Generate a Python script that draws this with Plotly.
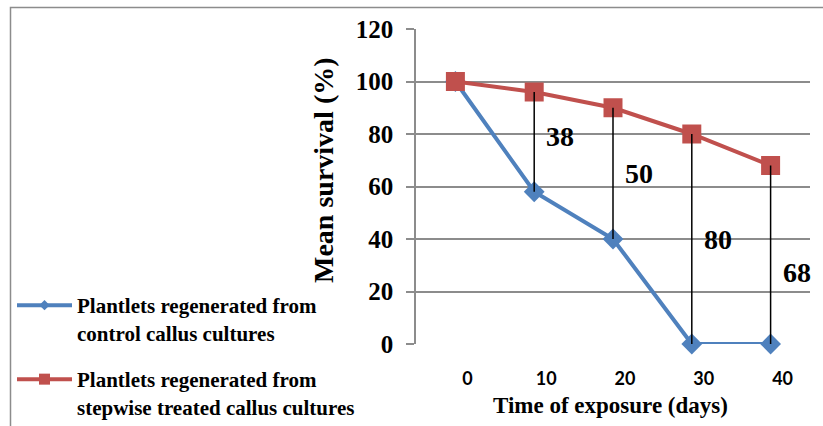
import plotly.graph_objects as go

# ---- data -------------------------------------------------------------
days = [0, 10, 20, 30, 40]
day_labels = ["0", "10", "20", "30", "40"]
control = [100, 58, 40, 0, 0]
stepwise = [100, 96, 90, 80, 68]
y_ticks = [0, 20, 40, 60, 80, 100, 120]

control_name = "Plantlets regenerated from<br>control callus cultures"
stepwise_name = "Plantlets regenerated from<br>stepwise treated callus cultures"
y_title = "Mean survival (%)"
x_title = "Time of exposure (days)"

# ---- styling ----------------------------------------------------------
W, H = 823, 426
M_L, M_R, M_T, M_B = 416, 13, 29, 82
PW, PH = W - M_L - M_R, H - M_T - M_B

BLUE = "#4F81BD"
RED = "#C0504D"
GRID = "#8C8C8C"
SERIF = "Liberation Serif"
SANS = "Lato"

# vertical pixel tweaks for the difference labels
label_yshift = [5, 0, 0, -18]


def px_x(px):
    return (px - M_L) / PW


def px_y(py):
    return (M_T + PH - py) / PH


fig = go.Figure()

# main series (legend entries drawn separately with smaller markers)
fig.add_trace(go.Scatter(
    x=days, y=control, mode="lines+markers", showlegend=False,
    line=dict(color=BLUE, width=4), cliponaxis=False,
    marker=dict(symbol="diamond", size=16, color=BLUE),
))
fig.add_trace(go.Scatter(
    x=days, y=stepwise, mode="lines+markers", showlegend=False,
    line=dict(color=RED, width=4), cliponaxis=False,
    marker=dict(symbol="square", size=19, color=RED),
))

# difference lines between the two series
gx, gy = [], []
for d, c, s in zip(days, control, stepwise):
    if s - c > 0:
        gx += [d, d, None]
        gy += [s, c, None]
fig.add_trace(go.Scatter(
    x=gx, y=gy, mode="lines", showlegend=False, cliponaxis=False,
    line=dict(color="black", width=1.5), hoverinfo="skip",
))

# legend-only entries
fig.add_trace(go.Scatter(
    x=[None], y=[None], mode="lines+markers", name=control_name,
    line=dict(color=BLUE, width=4),
    marker=dict(symbol="diamond", size=8, color=BLUE),
    legend="legend",
))
fig.add_trace(go.Scatter(
    x=[None], y=[None], mode="lines+markers", name=stepwise_name,
    line=dict(color=RED, width=4),
    marker=dict(symbol="square", size=11, color=RED),
    legend="legend2",
))

# difference labels
k = 0
for d, c, s in zip(days, control, stepwise):
    diff = s - c
    if diff <= 0:
        continue
    fig.add_annotation(
        x=d, y=(s + c) / 2, text=str(diff), showarrow=False,
        xshift=26, yshift=label_yshift[k],
        font=dict(family=SERIF, size=28, color="black", weight="bold"),
    )
    k += 1

# axis titles
fig.add_annotation(
    xref="paper", yref="paper", x=px_x(323), y=px_y(170),
    text=y_title, textangle=-90, showarrow=False,
    xanchor="center", yanchor="middle",
    font=dict(family=SERIF, size=28, color="black", weight="bold"),
)
fig.add_annotation(
    xref="paper", yref="paper", x=px_x(610), y=px_y(405),
    text=x_title, showarrow=False,
    xanchor="center", yanchor="middle",
    font=dict(family=SERIF, size=23, color="black", weight="bold"),
)

# outer chart frame
fig.add_shape(
    type="rect", xref="paper", yref="paper",
    x0=px_x(10.5), x1=px_x(840), y0=px_y(450), y1=px_y(7.5),
    line=dict(color=GRID, width=1.5), layer="below",
)

legend_common = dict(
    xref="container", yref="container",
    xanchor="left", yanchor="top", bgcolor="rgba(0,0,0,0)",
    font=dict(family=SERIF, size=21, color="black", weight="bold"),
    itemwidth=55, valign="top", tracegroupgap=0,
)

fig.update_layout(
    width=W, height=H,
    margin=dict(l=M_L, r=M_R, t=M_T, b=M_B, pad=0, autoexpand=False),
    paper_bgcolor="white", plot_bgcolor="white",
    legend=dict(x=12 / W, y=1 - 285 / H, **legend_common),
    legend2=dict(x=12 / W, y=1 - 359 / H, **legend_common),
    xaxis=dict(
        range=[-5, 45], tickvals=days, ticktext=day_labels,
        showgrid=False, zeroline=False, showline=False, ticks="",
        ticklabelshift=12, ticklabelstandoff=22,
        tickfont=dict(family=SANS, size=18, color="black", weight="bold"),
        fixedrange=True,
    ),
    yaxis=dict(
        range=[0, 120], tickvals=y_ticks,
        showgrid=True, gridcolor=GRID, gridwidth=1.5,
        zeroline=False, showline=True, linecolor=GRID, linewidth=1.5,
        ticks="outside", ticklen=8, tickcolor=GRID, tickwidth=1.5,
        ticklabelstandoff=8,
        tickfont=dict(family=SERIF, size=25, color="black", weight="bold"),
        fixedrange=True,
    ),
)

fig.write_html("out.html")
